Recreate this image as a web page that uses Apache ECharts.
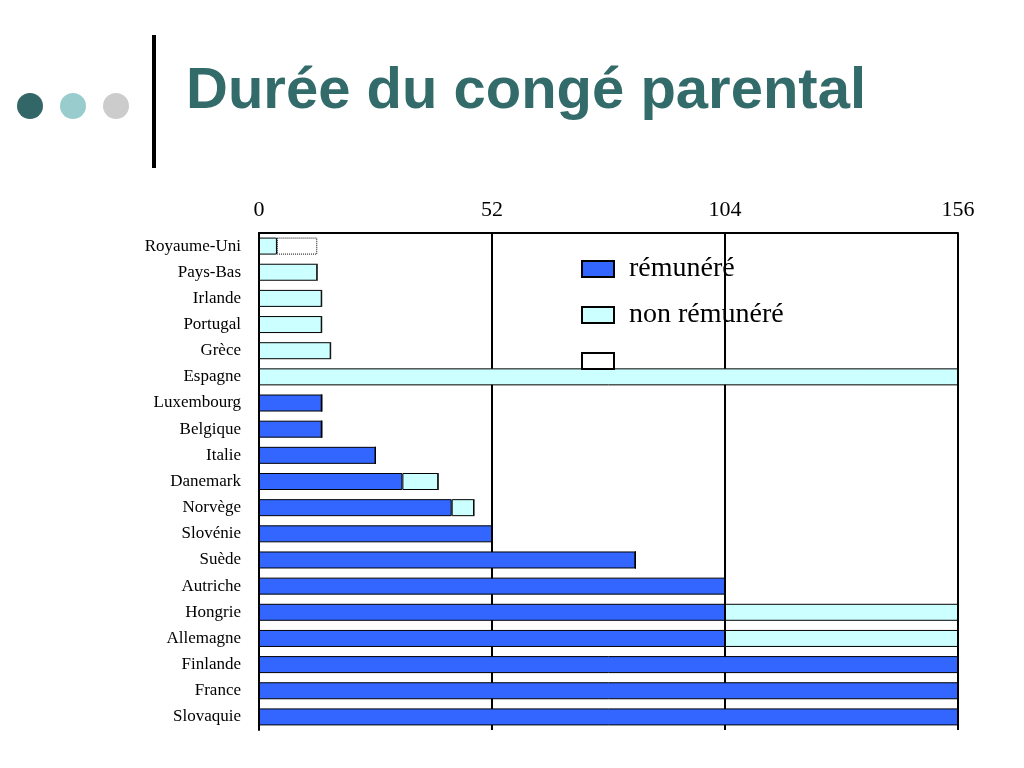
<!DOCTYPE html>
<html><head><meta charset="utf-8">
<script src="https://cdn.jsdelivr.net/npm/echarts@6/dist/echarts.min.js"></script>
<style>html,body{margin:0;padding:0;background:#fff}#c{width:1024px;height:768px}</style>
</head><body><div id="c"></div>
<script>
const categories = ['Royaume-Uni','Pays-Bas','Irlande','Portugal','Grèce','Espagne','Luxembourg','Belgique','Italie','Danemark','Norvège','Slovénie','Suède','Autriche','Hongrie','Allemagne','Finlande','France','Slovaquie'];
const paid =   [0,0,0,0,0,0,14,14,26,32,43,52,84,104,104,104,156,156,156];
const unpaid = [4,13,14,14,16,156,0,0,0,8,5,0,0,0,52,52,0,0,0];
const other =  [9,0,0,0,0,0,0,0,0,0,0,0,0,0,0,0,0,0,0];
const ticks = [0,52,104,156];
const chart = echarts.init(document.getElementById('c'));
const serif = 'Liberation Serif';
chart.setOption({
  animation:false,
  title:{text:'Durée du congé parental',left:181,top:58,textStyle:{fontFamily:'Liberation Sans',fontWeight:'bold',fontSize:58,color:'#336b6b'}},
  graphic:[
    {type:'circle',shape:{cx:30,cy:106,r:13},style:{fill:'#336666'}},
    {type:'circle',shape:{cx:73,cy:106,r:13},style:{fill:'#99cccc'}},
    {type:'circle',shape:{cx:116,cy:106,r:13},style:{fill:'#cccccc'}},
    {type:'line',shape:{x1:154,y1:35,x2:154,y2:168},style:{stroke:'#000',lineWidth:4}}
  ],
  legend:{left:576,top:250,orient:'vertical',itemGap:18,itemWidth:32,itemHeight:16,icon:'rect',
    textStyle:{fontFamily:serif,fontSize:28,color:'#000',letterSpacing:2,padding:[0,0,0,10]},
    data:['rémunéré','non rémunéré',' ']},
  grid:{left:259,right:66,top:233,bottom:38},
  xAxis:{type:'value',position:'top',min:0,max:156,interval:52,
    axisLine:{show:true,lineStyle:{color:'#000',width:2}},axisTick:{show:false},
    splitLine:{lineStyle:{color:'#000',width:2}},
    axisLabel:{fontFamily:serif,fontSize:22,color:'#000',margin:12,letterSpacing:3}},
  yAxis:{type:'category',inverse:true,data:categories,
    axisLine:{lineStyle:{color:'#000',width:2}},axisTick:{show:false},
    axisLabel:{fontFamily:serif,fontSize:17,color:'#000',margin:18,letterSpacing:1.2}},
  series:[
    {name:'rémunéré',type:'bar',stack:'a',data:paid,barWidth:17,itemStyle:{color:'#3366ff',borderColor:'#000',borderWidth:1}},
    {name:'non rémunéré',type:'bar',stack:'a',data:unpaid,itemStyle:{color:'#ccffff',borderColor:'#000',borderWidth:1}},
    {name:' ',type:'bar',stack:'a',data:other,itemStyle:{color:'#fff',borderColor:'#000',borderWidth:1,borderType:'dotted'}}
  ]
});
</script></body></html>
